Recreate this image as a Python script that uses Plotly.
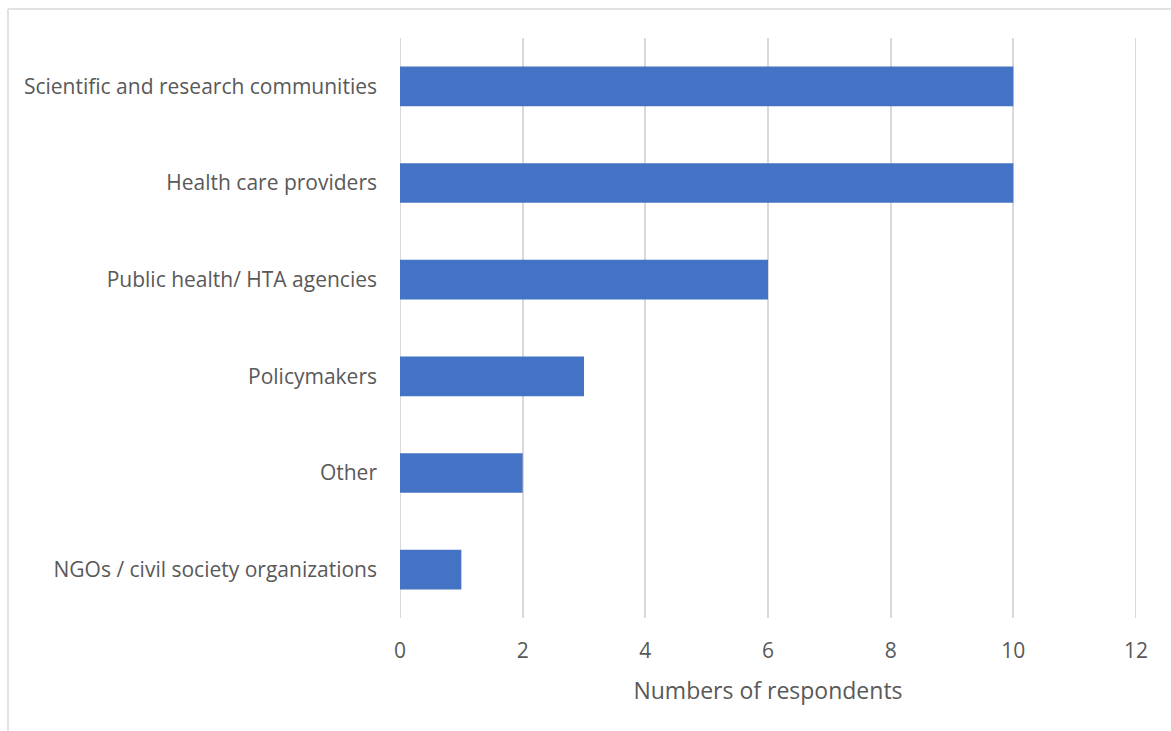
import plotly.graph_objects as go

categories = [
    "NGOs / civil society organizations",
    "Other",
    "Policymakers",
    "Public health/ HTA agencies",
    "Health care providers",
    "Scientific and research communities",
]
respondents = [1, 2, 3, 6, 10, 10]
x_ticks = [0, 2, 4, 6, 8, 10, 12]

W, H = 1171, 731
L, R, T, B = 400, 35, 38, 113
pw, ph = W - L - R, H - T - B
GRID = "#D9D9D9"

def px_to_paper_x(px):
    return (px - L) / pw

def px_to_paper_y(py):
    return (H - B - py) / ph

fig = go.Figure(
    go.Bar(
        x=respondents,
        y=categories,
        orientation="h",
        marker=dict(color="#4472C4", line=dict(width=0)),
        width=0.41,
        hoverinfo="x+y",
    )
)

# gridlines at the ends of the value axis (plotly skips those at the range edges)
edge_grid = [
    dict(type="line", xref="x", yref="paper", x0=v, x1=v, y0=0, y1=1,
         line=dict(color=GRID, width=2), layer="below")
    for v in (x_ticks[0], x_ticks[-1])
]

# outer chart frame (left and top edges)
frame = [
    dict(type="line", xref="paper", yref="paper",
         x0=px_to_paper_x(8), x1=px_to_paper_x(8),
         y0=px_to_paper_y(9), y1=px_to_paper_y(731),
         line=dict(color=GRID, width=1.5)),
    dict(type="line", xref="paper", yref="paper",
         x0=px_to_paper_x(8), x1=px_to_paper_x(1171),
         y0=px_to_paper_y(9), y1=px_to_paper_y(9),
         line=dict(color=GRID, width=1.5)),
]

fig.update_layout(
    width=W,
    height=H,
    margin=dict(l=L, r=R, t=T, b=B),
    paper_bgcolor="white",
    plot_bgcolor="white",
    font=dict(family="Open Sans, sans-serif", color="#595959", size=21),
    showlegend=False,
    xaxis=dict(
        range=[0, 12],
        tickvals=x_ticks,
        showgrid=True,
        gridcolor=GRID,
        gridwidth=1.5,
        zeroline=False,
        showline=False,
        ticks="",
        ticklabelstandoff=18,
        tickfont=dict(size=21, color="#595959"),
        title=dict(text="Numbers of respondents", font=dict(size=23, color="#595959"), standoff=19),
    ),
    yaxis=dict(
        showgrid=False,
        zeroline=False,
        showline=False,
        ticks="",
        ticklabelstandoff=22,
        tickfont=dict(size=21, color="#595959"),
    ),
    shapes=edge_grid + frame,
)

fig.write_html("out.html")
